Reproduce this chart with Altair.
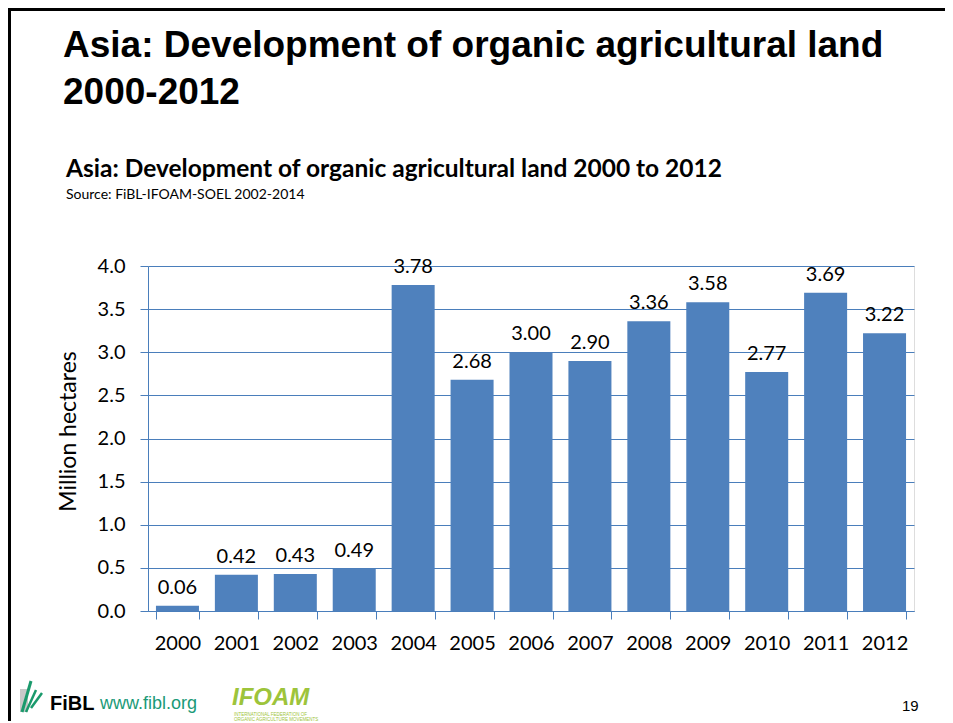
import altair as alt
import pandas as pd

# ---------------- data ----------------
years = ["2000", "2001", "2002", "2003", "2004", "2005", "2006",
         "2007", "2008", "2009", "2010", "2011", "2012"]
values = [0.06, 0.42, 0.43, 0.49, 3.78, 2.68, 3.00, 2.90, 3.36, 3.58, 2.77, 3.69, 3.22]
y_ticks = [0.0, 0.5, 1.0, 1.5, 2.0, 2.5, 3.0, 3.5, 4.0]

title_lines = ["Asia: Development of organic agricultural land", "2000-2012"]
subtitle = "Asia: Development of organic agricultural land 2000 to 2012"
source = "Source: FiBL-IFOAM-SOEL 2002-2014"
y_title = "Million hectares"
page_no = "19"

df = pd.DataFrame({"year": years, "value": values})

# ---------------- layout ----------------
W, H = 766, 345
OX, OY = 148, 266          # page position of plot-area origin
PAD_L, PAD_T = OX - 8, OY - 8
PAD_R = 937 - PAD_L - W
PAD_B = 713 - PAD_T - H


def px(x):
    return x - OX


def py(y):
    return y - OY


BLUE = "#4F81BD"
GRID = "#4A7EBB"
FONT = "Lato"


def txt(text, x, y, **kw):
    opts = dict(align="left", baseline="alphabetic")
    opts.update(kw)
    return alt.Chart(pd.DataFrame({"t": [text]})).mark_text(**opts).encode(
        x=alt.value(px(x)), y=alt.value(py(y)), text="t:N"
    )


def seg(x1, y1, x2, y2, color, width):
    return alt.Chart(pd.DataFrame({"a": [0]})).mark_rule(
        color=color, strokeWidth=width
    ).encode(
        x=alt.value(px(x1)), y=alt.value(py(y1)),
        x2=alt.value(px(x2)), y2=alt.value(py(y2)),
    )


base = alt.Chart(df)

x_enc = alt.X(
    "year:N", sort=years,
    scale=alt.Scale(paddingInner=0.27, paddingOuter=0.135),
    axis=alt.Axis(
        title=None, labelAngle=0, labelFont=FONT, labelFontSize=20,
        labelColor="#000000", labelBaseline="alphabetic", labelPadding=30,
        tickSize=8, tickColor=GRID, domainColor=GRID, tickBand="extent",
        grid=False,
    ),
)
y_enc = alt.Y(
    "value:Q",
    scale=alt.Scale(domain=[0, 4], nice=False),
    axis=alt.Axis(
        values=y_ticks, format=".1f", title=y_title,
        titleFont=FONT, titleFontSize=23, titleFontWeight="normal",
        titleColor="#000000", titleAngle=270, titleAlign="center",
        titleBaseline="bottom", titleX=px(80), titleY=py(431),
        labelFont=FONT, labelFontSize=20, labelColor="#000000",
        labelPadding=15, tickSize=8, tickColor=GRID, domainColor=GRID,
        grid=True, gridColor=GRID, gridWidth=1,
    ),
)

bars = base.mark_bar(color=BLUE).encode(x=x_enc, y=y_enc)
bar_labels = base.mark_text(
    dy=-12, baseline="alphabetic", font=FONT, fontSize=20, color="#000000"
).encode(x=alt.X("year:N", sort=years), y="value:Q",
         text=alt.Text("value:Q", format=".2f"))

decor = [
    # slide frame
    seg(9.5, 8, 9.5, 723, "#000000", 3),
    seg(8, 9.5, 945, 9.5, "#000000", 3),
    # titles
    txt(title_lines[0], 63, 57, font="Liberation Sans", fontSize=37,
        fontWeight="bold", color="#000000"),
    txt(title_lines[1], 63, 104, font="Liberation Sans", fontSize=37,
        fontWeight="bold", color="#000000"),
    txt(subtitle, 66, 177, font=FONT, fontSize=24.5, fontWeight="bold",
        color="#000000"),
    txt(source, 66, 199, font=FONT, fontSize=14, color="#000000"),
    # footer: FiBL logo
    alt.Chart(pd.DataFrame({"a": [0]})).mark_rect(color="#c8c8c8").encode(
        x=alt.value(px(20)), x2=alt.value(px(28)),
        y=alt.value(py(689)), y2=alt.value(py(712))),
    seg(22, 712, 31, 681, "#1a9a6c", 3),
    seg(26, 712, 36, 690, "#1a9a6c", 2.5),
    seg(31, 708, 42, 693, "#1a9a6c", 2.5),
    txt("FiBL", 50, 710, font="Liberation Sans", fontSize=20,
        fontWeight="bold", color="#000000"),
    txt("www.fibl.org", 100, 709, font="Liberation Sans", fontSize=18,
        color="#1a9a78"),
    # footer: IFOAM logo
    txt("IFOAM", 232, 705, font="Liberation Sans", fontSize=24,
        fontWeight="bold", fontStyle="italic", color="#9DC43B"),
    txt("INTERNATIONAL FEDERATION OF", 234, 715.5, font="Liberation Sans",
        fontSize=4.5, color="#9DC43B"),
    txt("ORGANIC AGRICULTURE MOVEMENTS", 234, 720.5, font="Liberation Sans",
        fontSize=4.5, color="#9DC43B"),
    # page number
    txt(page_no, 902, 711, font="Liberation Sans", fontSize=15,
        color="#000000"),
]

chart = alt.layer(bars, bar_labels, *decor).properties(
    width=W, height=H,
    autosize=alt.AutoSizeParams(type="none"),
    padding={"left": PAD_L, "top": PAD_T, "right": PAD_R, "bottom": PAD_B},
).configure_view(stroke=None).configure(background="#ffffff")

chart.save("out.html", embed_options={"renderer": "svg", "actions": False})
